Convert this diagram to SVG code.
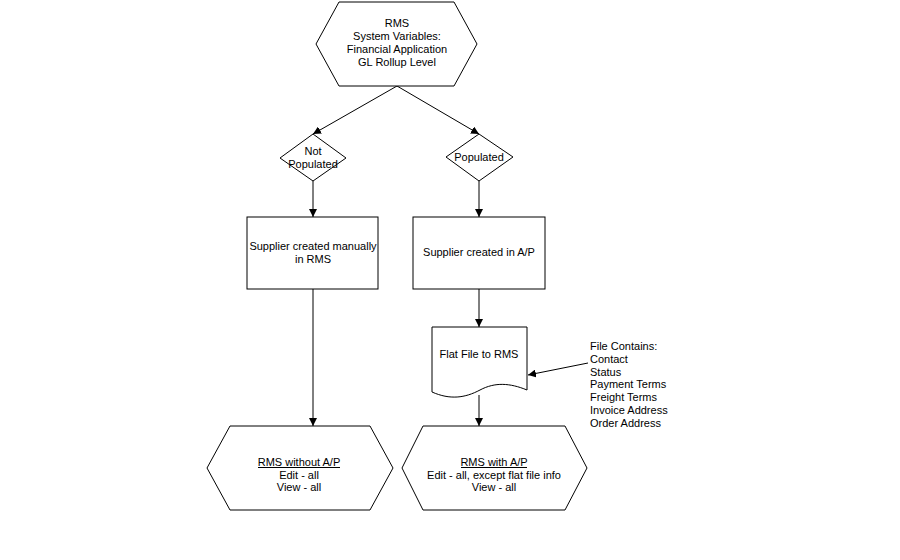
<svg xmlns="http://www.w3.org/2000/svg" width="900" height="560" viewBox="0 0 900 560">
<style>
.s{fill:#fff;stroke:#000;stroke-width:1}
.t{font-family:"Liberation Sans",Arial,sans-serif;font-size:11px;fill:#000;text-anchor:middle}
.l{font-family:"Liberation Sans",Arial,sans-serif;font-size:11px;fill:#000}
.c{fill:none;stroke:#000;stroke-width:1;marker-end:url(#a)}
.u{stroke:#000;stroke-width:1}
</style>
<defs>
<marker id="a" viewBox="0 0 10 10" refX="10" refY="5" markerWidth="8" markerHeight="8" markerUnits="userSpaceOnUse" orient="auto"><path d="M0,0L10,5L0,10z" fill="#000"/></marker>
</defs>
<rect width="900" height="560" fill="#fff"/>
<g id="connectors">
<line class="c" x1="397" y1="86" x2="313" y2="134"/>
<line class="c" x1="397" y1="86" x2="479" y2="134"/>
<line class="c" x1="313" y1="181" x2="313" y2="217"/>
<line class="c" x1="479" y1="181" x2="479" y2="217"/>
<line class="c" x1="313" y1="289" x2="313" y2="426"/>
<line class="c" x1="479" y1="289" x2="479" y2="327"/>
<line class="c" x1="479" y1="395" x2="479" y2="426"/>
<line class="c" x1="588" y1="363" x2="528" y2="375"/>
</g>
<g id="rms-top">
<polygon class="s" points="339,2 454,2 477,44 454,86 339,86 316,44"/>
<text class="t" x="397" y="27">RMS</text>
<text class="t" x="397" y="40">System Variables:</text>
<text class="t" x="397" y="53">Financial Application</text>
<text class="t" x="397" y="66">GL Rollup Level</text>
</g>
<g id="not-populated">
<polygon class="s" points="313,134 346,158 313,181 280,158"/>
<text class="t" x="313" y="155">Not</text>
<text class="t" x="313" y="168">Populated</text>
</g>
<g id="populated">
<polygon class="s" points="479,134 513,157 479,181 446,157"/>
<text class="t" x="479" y="161">Populated</text>
</g>
<g id="supplier-manual">
<rect class="s" x="247" y="217" width="131" height="72"/>
<text class="t" x="313" y="250">Supplier created manually</text>
<text class="t" x="313" y="263">in RMS</text>
</g>
<g id="supplier-ap">
<rect class="s" x="413" y="217" width="132" height="72"/>
<text class="t" x="479" y="256">Supplier created in A/P</text>
</g>
<g id="flat-file">
<path class="s" d="M432,327H527V390C510,383 495,382 480,390S450,400 432,392Z"/>
<text class="t" x="479" y="358">Flat File to RMS</text>
</g>
<g id="file-contains">
<text class="l" x="590" y="350">File Contains:</text>
<text class="l" x="590" y="363">Contact</text>
<text class="l" x="590" y="376">Status</text>
<text class="l" x="590" y="388">Payment Terms</text>
<text class="l" x="590" y="401">Freight Terms</text>
<text class="l" x="590" y="414">Invoice Address</text>
<text class="l" x="590" y="427">Order Address</text>
</g>
<g id="rms-without-ap">
<polygon class="s" points="230,426 370,426 393,468 370,510 230,510 207,468"/>
<text class="t" x="299" y="466">RMS without A/P</text>
<line class="u" x1="258" y1="467.5" x2="340" y2="467.5"/>
<text class="t" x="299" y="479">Edit - all</text>
<text class="t" x="299" y="491">View - all</text>
</g>
<g id="rms-with-ap">
<polygon class="s" points="423,426 565,426 587,468 565,510 423,510 402,468"/>
<text class="t" x="494" y="466">RMS with A/P</text>
<line class="u" x1="461" y1="467.5" x2="527" y2="467.5"/>
<text class="t" x="494" y="479">Edit - all, except flat file info</text>
<text class="t" x="494" y="491">View - all</text>
</g>
</svg>
